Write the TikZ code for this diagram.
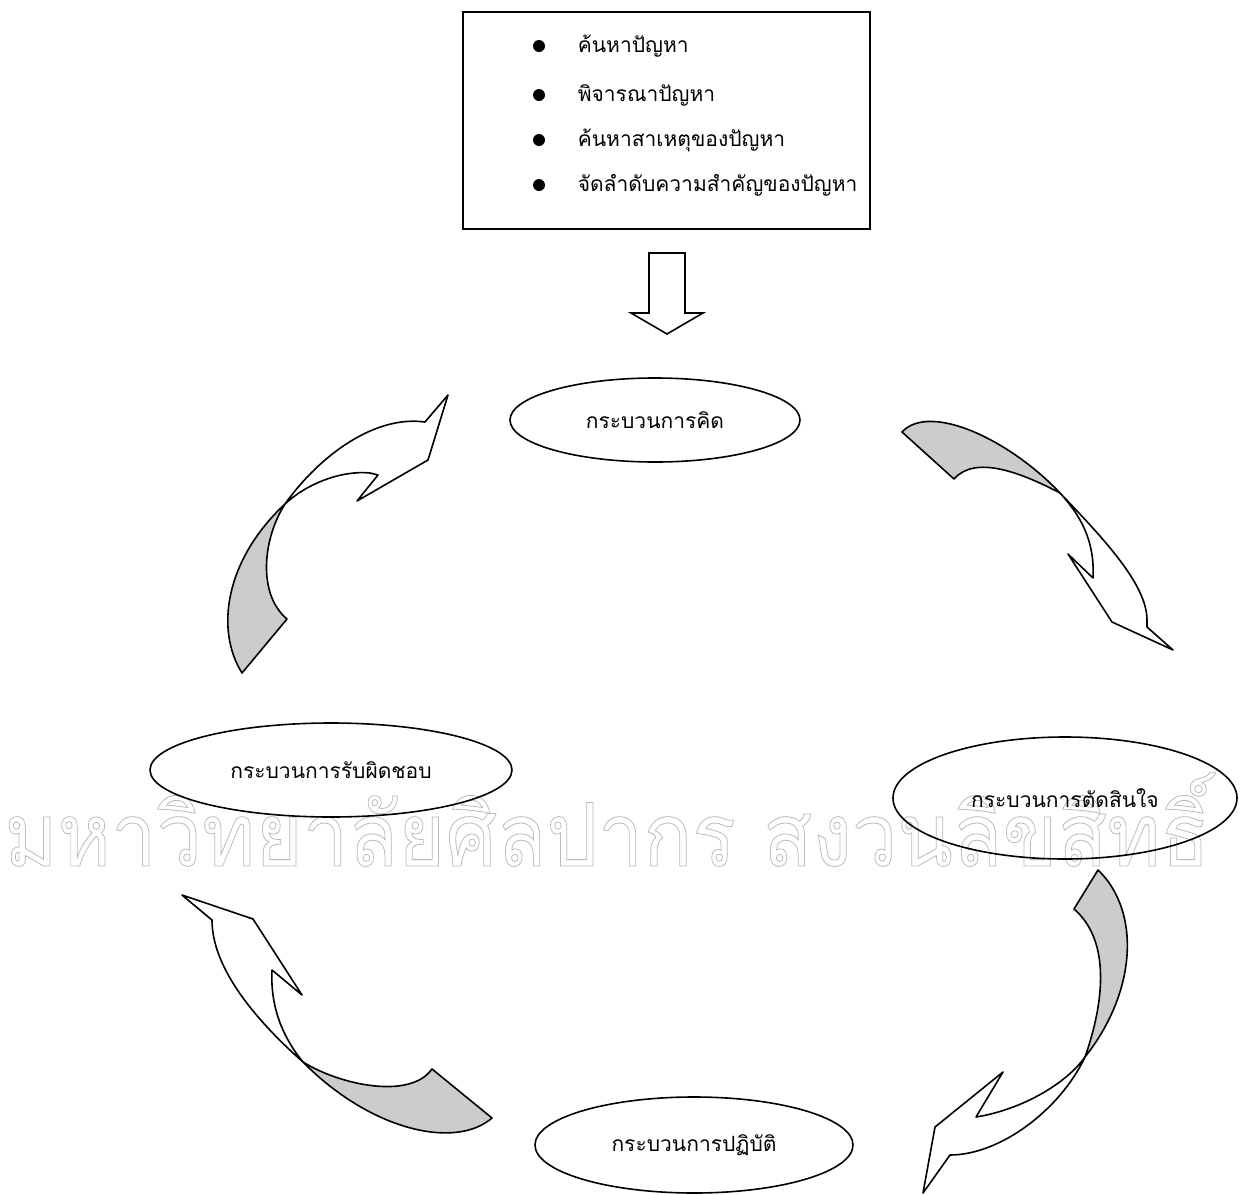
\documentclass[tikz,border=0pt]{standalone}
\usepackage{fontspec}
\newfontfamily\thaifont[Script=Thai]{Loma}
\usetikzlibrary{shapes.geometric}
\usetikzlibrary{positioning}

% stroke-only text for the watermark
\newcommand{\outlinetext}[1]{\special{pdf:literal 1 Tr 0.4 w}#1\special{pdf:literal 0 Tr}}

\begin{document}
\begin{tikzpicture}[x=0.5pt,y=-0.5pt]
% 1 unit = 1 px of the reference
    \def\LW{0.8pt}
    \def\BULLETX{539}
    \def\TEXTGAP{16pt}

    \tikzset{
      bubble/.style args={#1:#2}{ellipse,draw,line width=\LW,
          minimum width=#1,minimum height=#2,inner sep=0pt,
          font=\thaifont\fontsize{10.5}{12}\selectfont},
      dot/.style={circle,fill=black,inner sep=0pt,minimum size=6pt},
      item/.style={anchor=west,inner sep=0pt,
          font=\thaifont\fontsize{10.5}{12}\selectfont},
      backside/.style={fill=gray!40,draw,line width=\LW,line join=round},
      frontside/.style={fill=white,draw,line width=\LW,line join=round},
    }

    \useasboundingbox (0,0) rectangle (1250,1195);

    % WATERMARK
    \node[anchor=base west,inner sep=0pt,text=gray!55,
          font=\thaifont\fontsize{44}{44}\selectfont] (wm) at (4,866)
        {\scalebox{0.92}[1]{\outlinetext{มหาวิทยาลัยศิลปากร สงวนลิขสิทธิ์}}};

    % PROBLEM BOX
    \node[draw,line width=\LW,minimum width=203.5pt,minimum height=108.5pt]
        (box) at (666.5,120.5) {};
    \node[dot] (b1) at (\BULLETX,46) {};
    \node[dot] (b2) at (\BULLETX,95) {};
    \node[dot] (b3) at (\BULLETX,140) {};
    \node[dot] (b4) at (\BULLETX,185) {};
    \node[item,right=\TEXTGAP of b1] (t1) {ค้นหาปัญหา};
    \node[item,right=\TEXTGAP of b2] (t2) {พิจารณาปัญหา};
    \node[item,right=\TEXTGAP of b3] (t3) {ค้นหาสาเหตุของปัญหา};
    \node[item,right=\TEXTGAP of b4] (t4) {จัดลำดับความสำคัญของปัญหา};

    % DOWN ARROW
    \draw[frontside,line join=miter] (649,253) -- (685,253) -- (685,313) -- (703,313)
        -- (667,334) -- (631,313) -- (649,313) -- cycle;

    % PROCESS ELLIPSES
    \node[bubble=145pt:42pt] (think) at (655,420) {กระบวนการคิด};
    \node[bubble=181pt:47pt] (duty) at (331,770) {กระบวนการรับผิดชอบ};
    \node[bubble=172pt:61pt] (decide) at (1065,798) {กระบวนการตัดสินใจ};
    \node[bubble=159pt:48pt] (act) at (694,1145) {กระบวนการปฏิบัติ};

    % FIRST CURVED ARROW (think -> decide)
    \draw[backside] (902,432) .. controls (930,402) and (1010,440) .. (1060,493)
        .. controls (1020,472) and (975,455) .. (954,479) -- cycle;
    \draw[frontside] (1060,493) .. controls (1105,540) and (1147,585) .. (1147,620)
        -- (1147,627) -- (1173,650) -- (1112,622) -- (1068,554) -- (1093,578)
        .. controls (1095,540) and (1080,515) .. (1060,493) -- cycle;

    % SECOND CURVED ARROW (decide -> act)
    \draw[backside] (1098,870) .. controls (1140,910) and (1138,990) .. (1085,1057)
        .. controls (1105,1000) and (1110,940) .. (1074,909) -- cycle;
    \draw[frontside] (1085,1057) .. controls (1060,1110) and (1000,1155) .. (950,1155)
        -- (923,1193) -- (935,1127) -- (1003,1072) -- (976,1117)
        .. controls (1020,1110) and (1065,1085) .. (1085,1057) -- cycle;

    % THIRD CURVED ARROW (act -> duty)
    \draw[backside] (492,1118) .. controls (455,1150) and (370,1130) .. (303,1062)
        .. controls (340,1085) and (410,1100) .. (432,1069) -- cycle;
    \draw[frontside] (303,1062) .. controls (250,1015) and (212,965) .. (212,920)
        -- (182,895) -- (253,919) -- (302,995) -- (272,970)
        .. controls (270,1010) and (285,1040) .. (303,1062) -- cycle;

    % FOURTH CURVED ARROW (duty -> think)
    \draw[backside] (242,673) .. controls (215,630) and (225,560) .. (285,504)
        .. controls (262,540) and (258,595) .. (287,619) -- cycle;
    \draw[frontside] (285,504) .. controls (320,455) and (375,415) .. (425,422)
        -- (448,395) -- (428,460) -- (357,501) -- (378,475) -- (370,473)
        .. controls (340,470) and (305,485) .. (285,504) -- cycle;

\end{tikzpicture}
\end{document}
